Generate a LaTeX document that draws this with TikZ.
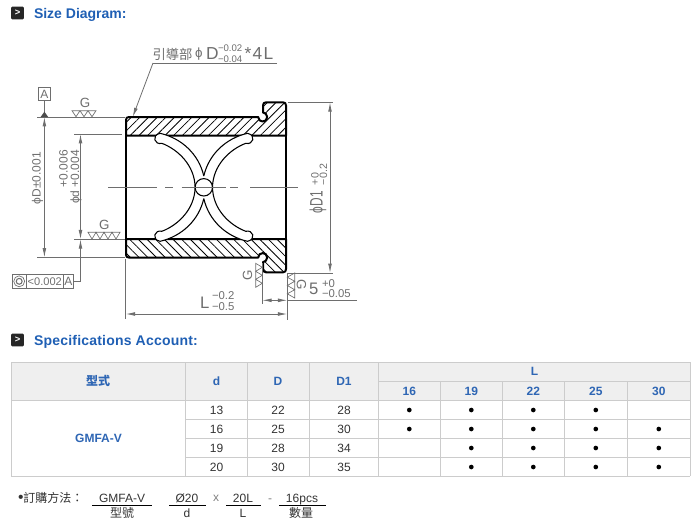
\documentclass[tikz,border=0pt]{standalone}
\usepackage{fontspec}
\usepackage{graphicx}
\setmainfont{Liberation Sans}
\newfontfamily\cjk{Noto Sans CJK TC}
\usetikzlibrary{arrows.meta,patterns.meta}
\definecolor{dimgray}{HTML}{6E6E6E}
\definecolor{titleblue}{HTML}{1F5FB4}
\definecolor{headblue}{HTML}{2E66B4}
\definecolor{tablegray}{HTML}{CCCCCC}
\definecolor{headfill}{HTML}{EFEFEF}
\newcommand{\bandpath}{(126,135.6) -- (126,120) .. controls (126,118) and (127,117) .. (129,117) -- (258.2,117)
 .. controls (258.2,123) and (267.2,123) .. (267.2,117) .. controls (267.2,114.5) and (265,112.5) .. (263,112.5)
 -- (263,105.5) .. controls (263,103.5) and (264,102.3) .. (266,102.3) -- (283,102.3)
 .. controls (285,102.3) and (286,103.5) .. (286,105.5) -- (286,135.6) -- cycle}
\begin{document}
\begin{tikzpicture}[x=0.75pt,y=-0.75pt,inner sep=0pt,outer sep=0pt,>={Latex[length=7pt,width=2.8pt]},
iconbox/.style={fill=black!85,rounded corners=0.8pt,minimum width=9.5pt,minimum height=9.5pt,text=white,font=\bfseries\fontsize{7}{7}\selectfont},
titletext/.style={anchor=west,text=titleblue,font=\bfseries\fontsize{10.5}{12}\selectfont},
outline/.style={line width=1.5pt,line join=round},
hatchup/.style={pattern={Lines[angle=45,distance=4.6pt,line width=.6pt]}},
hatchdown/.style={pattern={Lines[angle=-45,distance=4.6pt,line width=.6pt]}},
groove/.style={fill=white,draw,line width=.8pt},
dimline/.style={draw=dimgray,line width=.6pt},
dimtext/.style={text=dimgray,font=\fontsize{9}{10}\selectfont},
bigdim/.style={text=dimgray,font=\fontsize{13}{14}\selectfont},
smalldim/.style={text=dimgray,font=\fontsize{8}{9}\selectfont},
tinydim/.style={text=dimgray,font=\fontsize{7.2}{8}\selectfont},
grid/.style={draw=tablegray,line width=.75pt},
headtext/.style={text=headblue,font=\bfseries\fontsize{9}{11}\selectfont},
celltext/.style={text=black!80,font=\fontsize{9}{11}\selectfont},
dotmark/.style={fill=black,circle,minimum size=3.5pt},
ordertext/.style={font=\fontsize{9}{11}\selectfont,text=black!80}]
\useasboundingbox (0,0) rectangle (700,526);
% titles
\draw (17.5,13) node[iconbox] (iconsize) {>};
\draw (34,14.5) node[titletext] (titlesize) {Size Diagram:};
\draw (17.5,340) node[iconbox] (iconspec) {>};
\draw (34,341.5) node[titletext,font=\bfseries\fontsize{10.5}{12}\selectfont\addfontfeatures{LetterSpace=1.5}] (titlespec) {Specifications Account:};
% bushing
\draw[outline,hatchup] \bandpath;
\begin{scope}[shift={(0,374.6)},yscale=-1]
\draw[outline,hatchdown] \bandpath;
\end{scope}
\draw[outline] (126,135.6) -- (126,239);
\draw[outline] (286,135.6) -- (286,239);
\foreach \sx/\sy in {1/1,-1/1,1/-1,-1/-1} {
\begin{scope}[shift={(203.8,187.3)},xscale=\sx,yscale=\sy]
\draw[groove] (0,-11.3) .. controls (-5,-33) and (-22,-49) .. (-43.7,-54)
 .. controls (-53,-52) and (-49,-42) .. (-42,-44) .. controls (-26,-38) and (-9,-22) .. (-8.7,0);
\end{scope}
}
\draw (203.8,187.3) node[draw,circle,fill=white,line width=.8pt,minimum size=17.4*.75pt] (oilhole) {};
% center line
\draw[dimline] (108,187.3) -- (156.7,187.3) (165,187.3) -- (173.3,187.3) (181.7,187.3) -- (225.7,187.3) (230,187.3) -- (238,187.3) (250,187.3) -- (298,187.3);
% datum A and phi D
\draw (44.4,94) node[draw=dimgray,line width=.5pt,minimum width=9.3pt,minimum height=10pt,dimtext] (datumA) {A};
\coordinate (Dtop) at (44.4,117);
\coordinate (Dbot) at (44.4,257.5);
\draw[dimline] (datumA) -- (Dtop);
\draw[dimline] (37,117) -- (125,117);
\draw[dimline] (37,257.5) -- (125,257.5);
\fill[black!70] (40.6,117) -- (44.4,111.7) -- (48.2,117) -- cycle;
\draw[dimline,<->] (Dtop) -- (Dbot);
\draw (37.5,152) node[dimtext,rotate=90,anchor=east] (labelD) {ϕD±0.001};
% phi d
\coordinate (dtop) at (80.5,134);
\coordinate (dbot) at (80.5,239.3);
\draw[dimline] (74,134) -- (122,134);
\draw[dimline] (74,239.3) -- (125,239.3);
\draw[dimline,<->] (dtop) -- (dbot);
\draw (76,150) node[dimtext,rotate=90,anchor=east] (labeld) {ϕd +0.004};
\draw (63.5,150) node[dimtext,rotate=90,anchor=east] (labeldup) {+0.006};
% feature control frame
\draw (43,281.3) node[draw=dimgray,line width=.5pt,minimum width=46pt,minimum height=10.5pt] (frame) {};
\draw (19.2,281.3) node[draw=dimgray,circle,line width=.5pt,minimum size=8.2pt] (frameout) {};
\draw (19.2,281.3) node[draw=dimgray,circle,line width=.8pt,minimum size=4.4pt] (framein) {};
\draw (44.8,281.5) node[dimtext,font=\fontsize{8.3}{10}\selectfont] (framenum) {<0.002};
\draw (68.5,281.5) node[dimtext] (frameA) {A};
\draw[dimline] (26,274.3) -- (26,288.3) (63.3,274.3) -- (63.3,288.3);
\draw[dimline,->] (frame.east) -| (dbot);
% guide label
\draw (152.5,54) node[anchor=west,text=dimgray,font=\cjk\fontsize{10}{11}\selectfont] (guidetext) {引導部};
\draw (195,54.5) node[anchor=west,dimtext,font=\fontsize{10}{12}\selectfont] (guidephi) {ϕ};
\draw (206,54) node[anchor=west,bigdim] (guideD) {D};
\draw (218,48.5) node[anchor=west,tinydim] (guideup) {−0.02};
\draw (218,59.5) node[anchor=west,tinydim] (guidedown) {−0.04};
\draw (244.5,54) node[anchor=west,bigdim,font=\fontsize{13}{14}\selectfont\addfontfeatures{LetterSpace=8}] (guideend) {*4L};
\coordinate (guideR) at (277,63);
\coordinate (guideL) at (153,63);
\coordinate (guidetip) at (132.7,117);
\draw[dimline] (guideR) -- (guideL);
\draw[dimline,->] (guideL) -- (guidetip);
% surface marks
\draw (85,103) node[bigdim,font=\fontsize{10}{11}\selectfont] (gone) {G};
\draw[dimline,line width=.5pt] (72,110.7) -- (96,110.7) -- (92,116.7) -- (88,110.7) -- (84,116.7) -- (80,110.7) -- (76,116.7) -- cycle;
\draw (104.3,224.5) node[bigdim,font=\fontsize{10}{11}\selectfont] (gtwo) {G};
\draw[dimline,line width=.5pt] (88,232.3) -- (120,232.3) -- (116,239) -- (112,232.3) -- (108,239) -- (104,232.3) -- (100,239) -- (96,232.3) -- (92,239) -- cycle;
\draw (247.5,275) node[bigdim,rotate=90,font=\fontsize{10}{11}\selectfont] (gthree) {G};
\draw[dimline,line width=.5pt] (255.7,263.3) -- (255.7,287.3) -- (262.3,283.3) -- (255.7,279.3) -- (262.3,275.3) -- (255.7,271.3) -- (262.3,267.3) -- cycle;
\draw (301.5,285) node[bigdim,rotate=-90,font=\fontsize{10}{11}\selectfont] (gfour) {G};
\draw[dimline,line width=.5pt] (294.7,273) -- (294.7,298) -- (287.3,293.8) -- (294.7,289.7) -- (287.3,285.5) -- (294.7,281.3) -- (287.3,277.2) -- cycle;
% D1
\coordinate (Donetop) at (330,102.3);
\coordinate (Donebot) at (330,273);
\draw[dimline] (288,102.3) -- (333,102.3);
\draw[dimline] (288,273) -- (333,273);
\draw[dimline,<->] (Donetop) -- (Donebot);
\draw (318,213) node[bigdim,rotate=90,anchor=west,font=\fontsize{13.5}{15}\selectfont] (labelDone) {\scalebox{.66}[1]{ϕD1}};
\draw (315,185) node[smalldim,rotate=90,anchor=west] (labelDoneup) {+0};
\draw (323.5,185) node[smalldim,rotate=90,anchor=west] (labelDonedown) {−0.2};
% flange width and length
\coordinate (flangeL) at (262.3,300.3);
\coordinate (flangeR) at (287.3,300.3);
\coordinate (lenL) at (125.7,314);
\coordinate (lenR) at (287.3,314);
\draw[dimline] (262.3,263) -- (262.3,304);
\draw[dimline] (287.3,273) -- (287.3,319.5);
\draw[dimline] (125.7,258.5) -- (125.7,319);
\draw[dimline] (flangeR) -- (356.7,300.3);
\draw[dimline,<->] (flangeL) -- (flangeR);
\draw[dimline,<->] (lenL) -- (lenR);
\draw (309,289) node[bigdim,anchor=west,font=\fontsize{12.5}{14}\selectfont] (labelfive) {5};
\draw (322,283.5) node[anchor=west,text=dimgray,font=\fontsize{8.5}{10}\selectfont] (labelfiveup) {+0};
\draw (322,294) node[anchor=west,text=dimgray,font=\fontsize{8.5}{10}\selectfont] (labelfivedown) {−0.05};
\draw (200,303) node[anchor=west,bigdim,font=\fontsize{12.5}{14}\selectfont] (labelL) {L};
\draw (212,295.5) node[anchor=west,text=dimgray,font=\fontsize{8.5}{10}\selectfont] (labelLup) {−0.2};
\draw (212,307) node[anchor=west,text=dimgray,font=\fontsize{8.5}{10}\selectfont] (labelLdown) {−0.5};
% table
\fill[headfill] (11.3,362.3) rectangle (690.3,400.3);
\foreach \y in {362.3,400.3,476.3} {\draw[grid] (11.3,\y) -- (690.3,\y);}
\foreach \y in {419.3,438.3,457.3} {\draw[grid] (185.7,\y) -- (690.3,\y);}
\draw[grid] (378.3,381.3) -- (690.3,381.3);
\foreach \x in {11.3,185.7,247.3,309.3,378.3,690.3} {\draw[grid] (\x,362.3) -- (\x,476.3);}
\foreach \x in {440.3,502.3,564.3,627.3} {\draw[grid] (\x,381.3) -- (\x,476.3);}
\draw (98,381) node[headtext,font=\cjk\bfseries\fontsize{9}{11}\selectfont] (headtype) {型式};
\draw (216.5,381) node[headtext] (headd) {d};
\draw (278,381) node[headtext] (headD) {D};
\draw (344,381) node[headtext] (headDone) {D1};
\draw (534.5,371.7) node[headtext] (headL) {L};
\foreach \x/\v in {409.3/16,471.3/19,533.3/22,595.8/25,658.8/30} {
\draw (\x,391) node[headtext] (headL\v) {\v};
}
\draw (98.5,438) node[headtext] (typename) {GMFA-V};
\foreach \y/\d/\bigD/\Done in {410/13/22/28,429/16/25/30,448/19/28/34,467/20/30/35} {
\draw (216.5,\y) node[celltext] (celld\d) {\d};
\draw (278,\y) node[celltext] (cellD\d) {\bigD};
\draw (344,\y) node[celltext] (cellDone\d) {\Done};
}
\foreach \x/\y in {409.3/410,471.3/410,533.3/410,595.8/410,409.3/429,471.3/429,533.3/429,595.8/429,658.8/429,471.3/448,533.3/448,595.8/448,658.8/448,471.3/467,533.3/467,595.8/467,658.8/467} {
\draw (\x,\y) node[dotmark] (mark\x-\y) {};
}
% order example
\draw (18,498) node[anchor=west,ordertext] (ordertitle) {\scalebox{1.3}{•}{\cjk 訂購方法：}};
\draw (122,498) node[ordertext] (ordertype) {GMFA-V};
\draw (122,513) node[ordertext,font=\cjk\fontsize{9}{11}\selectfont] (ordertypeb) {型號};
\draw (187,498) node[ordertext] (orderd) {Ø20};
\draw (187,513) node[ordertext] (orderdb) {d};
\draw (216,498) node[ordertext,text=black!50] (ordertimes) {x};
\draw (243,498) node[ordertext] (orderL) {20L};
\draw (243,513) node[ordertext] (orderLb) {L};
\draw (270,501) node[ordertext,text=black!50] (orderdash) {-};
\draw (302,499.5) node[ordertext] (orderq) {16pcs};
\draw (301,513) node[ordertext,font=\cjk\fontsize{9}{11}\selectfont] (orderqb) {數量};
\draw[line width=.6pt] (92,505.3) -- (152,505.3) (169,505.3) -- (206,505.3) (226,505.3) -- (261,505.3) (279,505.3) -- (326,505.3);
\end{tikzpicture}
\end{document}
